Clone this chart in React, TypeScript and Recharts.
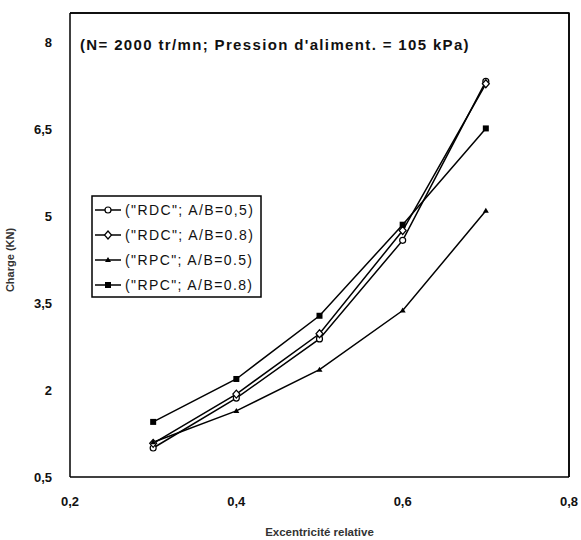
import { LineChart, Line, XAxis, YAxis, Label } from 'recharts';

const excentricite = [0.3, 0.4, 0.5, 0.6, 0.7];
const rdc05 = [1.0, 1.86, 2.88, 4.58, 7.32];
const rdc08 = [1.08, 1.93, 2.97, 4.75, 7.28];
const rpc05 = [1.1, 1.64, 2.35, 3.37, 5.09];
const rpc08 = [1.45, 2.19, 3.28, 4.85, 6.51];

const xTicks = [0.2, 0.4, 0.6, 0.8];
const yTicks = [0.5, 2, 3.5, 5, 6.5, 8];
const xDomain = [0.2, 0.8];
const yDomain = [0.5, 8.5];

const seriesNames = [
  '("RDC"; A/B=0,5)',
  '("RDC"; A/B=0.8)',
  '("RPC"; A/B=0.5)',
  '("RPC"; A/B=0.8)',
];
const note = "(N= 2000 tr/mn; Pression d'aliment. = 105 kPa)";

const data = excentricite.map((x, i) => ({
  x,
  rdc05: rdc05[i],
  rdc08: rdc08[i],
  rpc05: rpc05[i],
  rpc08: rpc08[i],
}));

const font = '"Liberation Sans", Arial, sans-serif';
const comma = (v: number) => String(v).replace('.', ',');
const blank = () => '';

function Marker({ kind, cx, cy }: { kind: string, cx: number, cy: number }) {
  if (kind === 'circle') return <circle cx={cx} cy={cy} r={3} fill="#fff" stroke="#000" strokeWidth={1.2} />;
  if (kind === 'diamond') return <path d={`M${cx},${cy - 4}L${cx + 3.5},${cy}L${cx},${cy + 4}L${cx - 3.5},${cy}Z`} fill="#fff" stroke="#000" strokeWidth={1.2} />;
  if (kind === 'triangle') return <path d={`M${cx},${cy - 3}L${cx + 3},${cy + 2}L${cx - 3},${cy + 2}Z`} fill="#000" />;
  return <rect x={cx - 3} y={cy - 3} width={6} height={6} fill="#000" />;
}

const kinds = ['circle', 'diamond', 'triangle', 'square'];

const dot = (kind: string) => (p: any) => <Marker key={`${kind}-${p.index}`} kind={kind} cx={p.cx} cy={p.cy} />;

function LegendBox() {
  return (
    <svg width={172} height={104} style={{ display: 'block' }}>
      <rect x={1} y={1} width={169} height={101} fill="#fff" stroke="#000" strokeWidth={1.5} />
      {seriesNames.map((name, i) => {
        const y = 15 + i * 25;
        return (
          <g key={name}>
            <line x1={4} x2={30} y1={y} y2={y} stroke="#000" strokeWidth={1.5} />
            <Marker kind={kinds[i]} cx={17} cy={y} />
            <text x={34} y={y + 5} fontFamily={font} fontSize={14} letterSpacing={1.4} fill="#111">{name}</text>
          </g>
        );
      })}
    </svg>
  );
}

export default function App() {
  return (
    <div style={{ position: 'absolute', left: 0, top: 0, width: 581, height: 540, background: '#fff', overflow: 'hidden' }}>
      <LineChart width={581} height={540} data={data} margin={{ top: 0, right: 0, bottom: 0, left: 0 }}>
        <XAxis
          dataKey="x"
          type="number"
          domain={xDomain}
          ticks={xTicks}
          tickFormatter={comma}
          axisLine={{ stroke: '#000', strokeWidth: 1.5 }}
          tickLine={false}
          tickSize={0}
          tickMargin={20}
          height={63}
          tick={{ fill: '#111', fontFamily: font, fontSize: 13, fontWeight: 'bold' }}
        >
          <Label value="Excentricité relative" position="insideBottom" offset={4} style={{ fill: '#333', fontFamily: font, fontSize: 11.5, fontWeight: 'bold' }} />
        </XAxis>
        <XAxis
          xAxisId="top"
          orientation="top"
          dataKey="x"
          type="number"
          domain={xDomain}
          ticks={xTicks}
          tickFormatter={blank}
          tickLine={false}
          height={13}
          axisLine={{ stroke: '#000', strokeWidth: 1.5 }}
        />
        <YAxis
          type="number"
          domain={yDomain}
          ticks={yTicks}
          tickFormatter={comma}
          axisLine={{ stroke: '#000', strokeWidth: 1.5 }}
          tickLine={false}
          tickSize={0}
          tickMargin={18}
          width={70}
          tick={{ fill: '#111', fontFamily: font, fontSize: 13, fontWeight: 'bold' }}
        >
          <Label value="Charge (KN)" angle={-90} position="insideLeft" offset={10} dy={15} style={{ fill: '#333', fontFamily: font, fontSize: 11, fontWeight: 'bold', textAnchor: 'middle' }} />
        </YAxis>
        <YAxis
          yAxisId="right"
          orientation="right"
          type="number"
          domain={yDomain}
          ticks={yTicks}
          tickFormatter={blank}
          tickLine={false}
          width={12}
          axisLine={{ stroke: '#000', strokeWidth: 1.5 }}
        />
        <Line dataKey="rdc05" name={seriesNames[0]} stroke="#000" strokeWidth={1.5} dot={dot('circle')} isAnimationActive={false} />
        <Line dataKey="rdc08" name={seriesNames[1]} stroke="#000" strokeWidth={1.5} dot={dot('diamond')} isAnimationActive={false} />
        <Line dataKey="rpc05" name={seriesNames[2]} stroke="#000" strokeWidth={1.5} dot={dot('triangle')} isAnimationActive={false} />
        <Line dataKey="rpc08" name={seriesNames[3]} xAxisId="top" yAxisId="right" stroke="#000" strokeWidth={1.5} dot={dot('square')} isAnimationActive={false} />
      </LineChart>
      {/* frame top/right + annotation */}
      <svg width={581} height={540} style={{ position: 'absolute', left: 0, top: 0, pointerEvents: 'none' }}>
        <path d="M70,13H569V477" fill="none" stroke="#000" strokeWidth={1.5} />
        <text x={80} y={50} fontFamily={font} fontSize={15} fontWeight="bold" letterSpacing={1.35} fill="#111">{note}</text>
      </svg>
      <div style={{ position: 'absolute', left: 91, top: 195 }}>
        <LegendBox />
      </div>
    </div>
  );
}
